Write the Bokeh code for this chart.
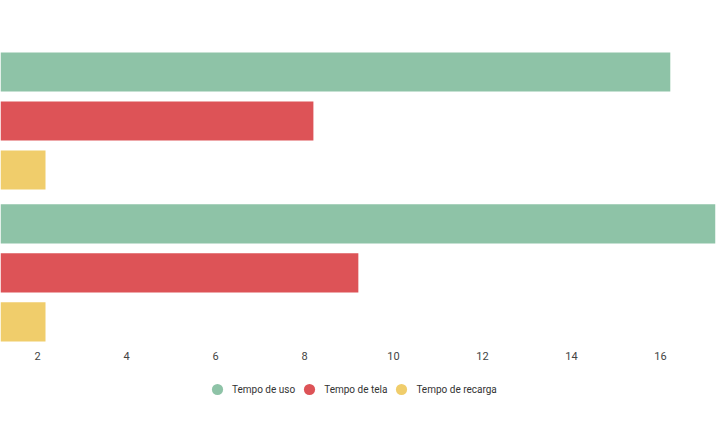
from bokeh.plotting import figure
from bokeh.layouts import column
from bokeh.models import ColumnDataSource, Range1d, Legend, LegendItem, FixedTicker
from bokeh.embed import file_html
from bokeh.resources import INLINE

groups = ["A", "B"]
series = ["Tempo de uso", "Tempo de tela", "Tempo de recarga"]
colors = ["#8ec3a7", "#dd5357", "#f0cd6b"]
values = {
    "Tempo de uso": [16.22, 17.6],
    "Tempo de tela": [8.2, 9.21],
    "Tempo de recarga": [2.18, 2.18],
}
x_ticks = [2, 4, 6, 8, 10, 12, 14, 16]

GROUP_PITCH = 3.1
BAR_H = 0.8

p = figure(width=720, height=370, output_backend="svg", toolbar_location=None,
           x_range=Range1d(2 - 37 / 44.5, 2 + 678 / 44.5),
           y_range=Range1d(-(345 - 71.5) / 49, 71.5 / 49),
           min_border_left=0, min_border_right=5, min_border_top=0, min_border_bottom=25)
p.yaxis.visible = False
p.outline_line_color = None
p.xgrid.visible = False
p.ygrid.visible = False

lg = figure(width=720, height=62, output_backend="svg", toolbar_location=None,
            min_border_left=0, min_border_right=0, min_border_top=0, min_border_bottom=0)
lg.axis.visible = False
lg.grid.visible = False
lg.outline_line_color = None

items = []
for j, s in enumerate(series):
    ys = [-(g * GROUP_PITCH + j) for g in range(len(groups))]
    src = ColumnDataSource(dict(y=ys, right=values[s], left=[0] * len(groups)))
    p.hbar(y="y", left="left", right="right", height=BAR_H, source=src,
           fill_color=colors[j], line_color=None)
    marker = lg.scatter(x="left", y="y", size=0, marker="circle", source=src,
                        fill_color=colors[j], line_color=None)
    items.append(LegendItem(label=s, renderers=[marker]))

ax = p.xaxis[0]
ax.ticker = FixedTicker(ticks=x_ticks)
ax.axis_line_color = None
ax.major_tick_line_color = None
ax.minor_tick_line_color = None
ax.major_tick_out = 0
ax.major_label_standoff = 6
ax.major_label_text_font = "Roboto"
ax.major_label_text_font_size = "11px"
ax.major_label_text_color = "#444444"

legend = Legend(items=items, orientation="horizontal", location=(203, 29),
                glyph_width=28, glyph_height=28, label_standoff=1, spacing=0,
                padding=0, margin=0, border_line_color=None,
                background_fill_alpha=0,
                label_text_font="Roboto", label_text_font_size="10px",
                label_text_color="#333333")
lg.add_layout(legend)

open("out.html", "w").write(file_html(column(p, lg, spacing=0), INLINE))
